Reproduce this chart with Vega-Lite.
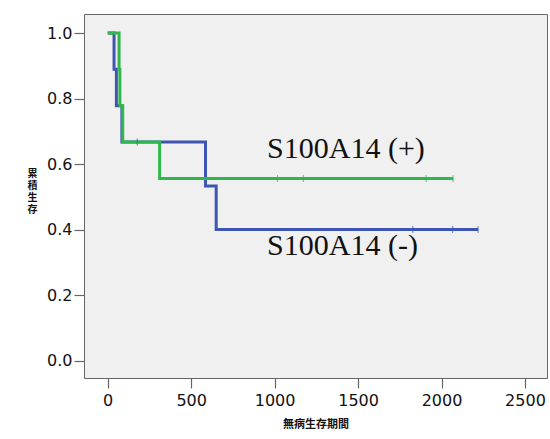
{
  "$schema": "https://vega.github.io/schema/vega-lite/v6.json",
  "width": 463,
  "height": 364,
  "autosize": {"type": "none"},
  "padding": {"left": 84, "top": 14, "right": 3, "bottom": 61},
  "background": "white",
  "config": {
    "view": {"fill": "#f0f0f0", "stroke": "#666666", "strokeWidth": 1},
    "axis": {
      "grid": false,
      "domain": false,
      "tickColor": "#666666",
      "tickSize": 10,
      "tickWidth": 1.2,
      "labelFont": "DejaVu Sans",
      "labelFontSize": 16,
      "labelColor": "#111111",
      "titleFont": "Noto Sans CJK JP",
      "titleFontWeight": "bold",
      "titleColor": "#111111"
    }
  },
  "datasets": {
    "curves": [
      {"group": "neg", "t": 0, "s": 1.0},
      {"group": "neg", "t": 38, "s": 0.889},
      {"group": "neg", "t": 52, "s": 0.778},
      {"group": "neg", "t": 85, "s": 0.667},
      {"group": "neg", "t": 586, "s": 0.533},
      {"group": "neg", "t": 650, "s": 0.4},
      {"group": "neg", "t": 2219, "s": 0.4},
      {"group": "pos", "t": 0, "s": 1.0},
      {"group": "pos", "t": 68, "s": 0.889},
      {"group": "pos", "t": 73, "s": 0.778},
      {"group": "pos", "t": 90, "s": 0.667},
      {"group": "pos", "t": 311, "s": 0.556},
      {"group": "pos", "t": 2069, "s": 0.556}
    ],
    "censored": [
      {"group": "neg", "t": 177, "s": 0.667},
      {"group": "neg", "t": 1828, "s": 0.4},
      {"group": "neg", "t": 2067, "s": 0.4},
      {"group": "neg", "t": 2219, "s": 0.4},
      {"group": "pos", "t": 1017, "s": 0.556},
      {"group": "pos", "t": 1172, "s": 0.556},
      {"group": "pos", "t": 1908, "s": 0.556},
      {"group": "pos", "t": 2069, "s": 0.556}
    ],
    "labels": [
      {"label": "S100A14 (+)", "t": 955, "s": 0.618},
      {"label": "S100A14 (-)", "t": 955, "s": 0.321}
    ]
  },
  "layer": [
    {
      "data": {"name": "curves"},
      "mark": {"type": "line", "interpolate": "step-after", "strokeWidth": 3},
      "encoding": {
        "x": {
          "field": "t", "type": "quantitative",
          "scale": {"domain": [-142, 2632], "nice": false, "zero": false},
          "axis": {"values": [0, 500, 1000, 1500, 2000, 2500], "format": "d", "title": "無病生存期間", "titleFontSize": 11, "titlePadding": 10, "labelPadding": 4}
        },
        "y": {
          "field": "s", "type": "quantitative",
          "scale": {"domain": [-0.053, 1.058], "nice": false, "zero": false},
          "axis": {"values": [0, 0.2, 0.4, 0.6, 0.8, 1.0], "format": ".1f", "title": ["累", "積", "生", "存"], "titleAngle": 0, "titleFontSize": 10, "titleLineHeight": 12, "titleAlign": "center", "titleBaseline": "top", "titleX": -52, "titleY": 154, "labelPadding": 2}
        },
        "color": {
          "field": "group", "type": "nominal",
          "scale": {"domain": ["neg", "pos"], "range": ["#3f55b2", "#2eb84b"]},
          "legend": null
        },
        "order": {"field": "t", "type": "quantitative"}
      }
    },
    {
      "data": {"name": "censored"},
      "mark": {"type": "tick", "orient": "vertical", "size": 7, "thickness": 1, "opacity": 0.8},
      "encoding": {
        "x": {"field": "t", "type": "quantitative"},
        "y": {"field": "s", "type": "quantitative"},
        "color": {"field": "group", "type": "nominal", "legend": null}
      }
    },
    {
      "data": {"name": "labels"},
      "mark": {"type": "text", "align": "left", "baseline": "alphabetic", "font": "Liberation Serif", "fontSize": 30, "color": "#111111"},
      "encoding": {
        "x": {"field": "t", "type": "quantitative"},
        "y": {"field": "s", "type": "quantitative"},
        "text": {"field": "label"}
      }
    }
  ]
}
